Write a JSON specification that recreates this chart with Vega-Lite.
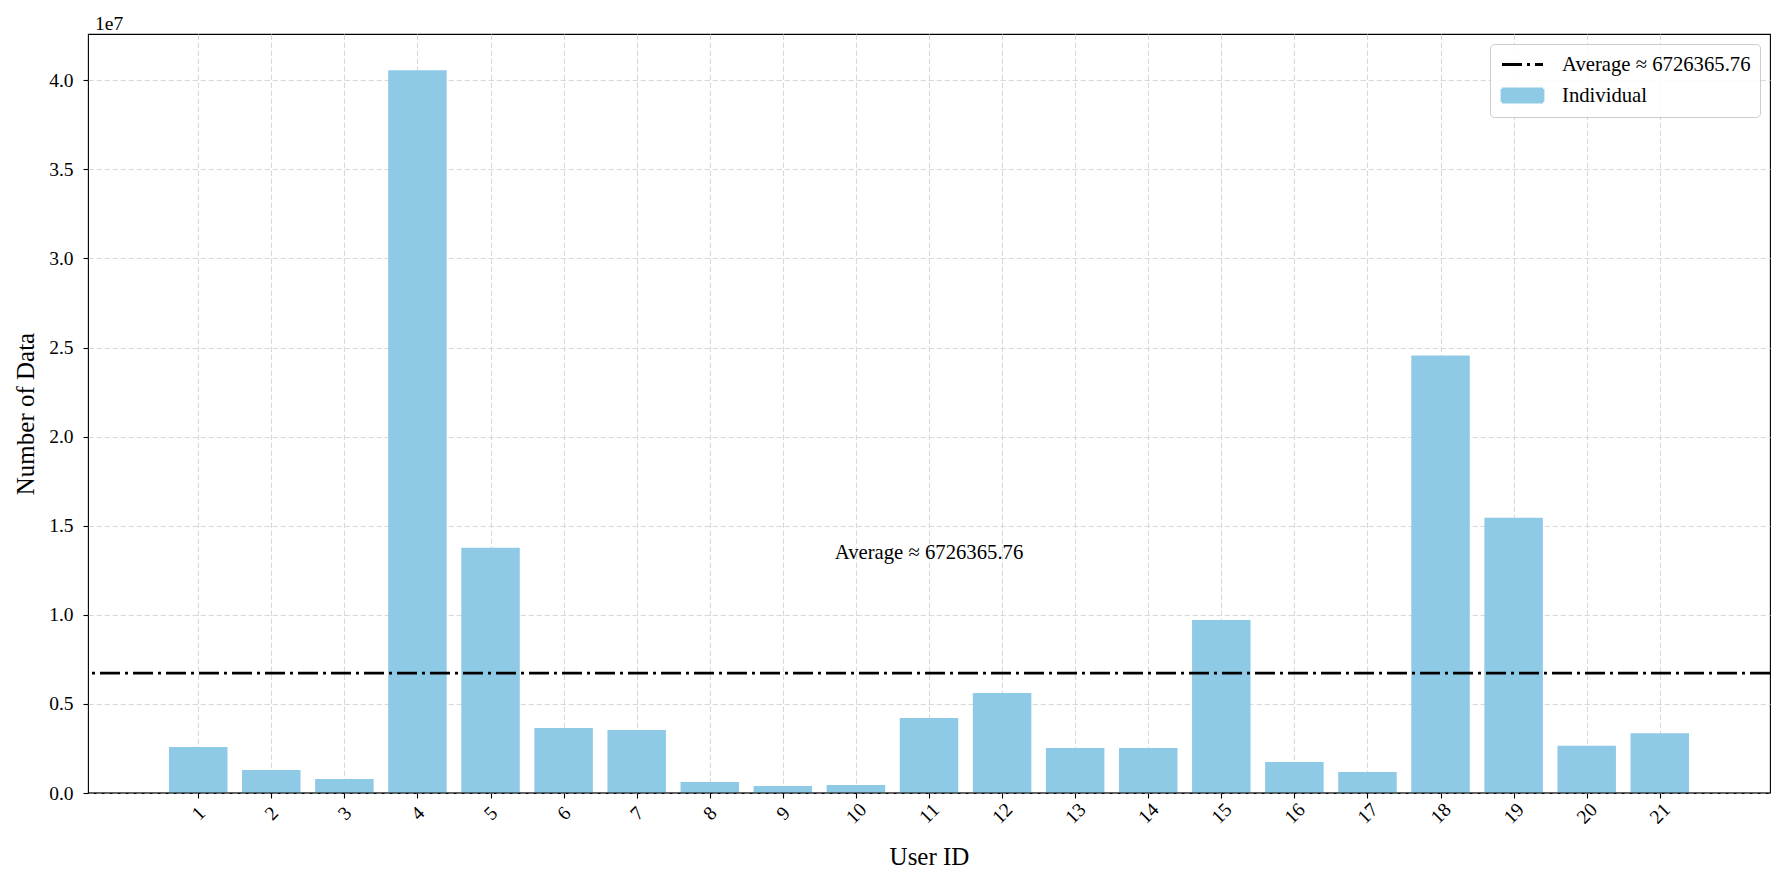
{
  "$schema": "https://vega.github.io/schema/vega-lite/v6.json",
  "width": 1682,
  "height": 759,
  "autosize": {"type": "none"},
  "padding": {"left": 88, "top": 34, "right": 15, "bottom": 91},
  "background": "white",
  "datasets": {
    "users": [
      {"user": 1, "count": 2580000},
      {"user": 2, "count": 1290000},
      {"user": 3, "count": 790000},
      {"user": 4, "count": 40560000},
      {"user": 5, "count": 13760000},
      {"user": 6, "count": 3650000},
      {"user": 7, "count": 3540000},
      {"user": 8, "count": 620000},
      {"user": 9, "count": 390000},
      {"user": 10, "count": 450000},
      {"user": 11, "count": 4210000},
      {"user": 12, "count": 5610000},
      {"user": 13, "count": 2530000},
      {"user": 14, "count": 2530000},
      {"user": 15, "count": 9710000},
      {"user": 16, "count": 1740000},
      {"user": 17, "count": 1180000},
      {"user": 18, "count": 24550000},
      {"user": 19, "count": 15450000},
      {"user": 20, "count": 2650000},
      {"user": 21, "count": 3360000}
    ],
    "avg": [
      {"label": "Average ≈ 6726365.76", "value": 6726365.76}
    ],
    "exponent": [
      {"text": "1e7"}
    ]
  },
  "layer": [
    {
      "data": {"name": "users"},
      "mark": {"type": "bar", "width": 58.5, "color": "#8ECAE6"},
      "encoding": {
        "x": {
          "field": "user",
          "type": "quantitative",
          "scale": {"domain": [-0.44, 22.44], "nice": false, "zero": false},
          "axis": {
            "values": [1,2,3,4,5,6,7,8,9,10,11,12,13,14,15,16,17,18,19,20,21],
            "format": "d",
            "title": "User ID",
            "titleX": 841,
            "titleY": 71,
            "titleBaseline": "alphabetic",
            "labelAngle": -45,
            "labelAlign": "center",
            "labelBaseline": "middle",
            "labelPadding": 15,
            "labelFlush": false,
            "labelOverlap": false
          }
        },
        "y": {
          "field": "count",
          "type": "quantitative",
          "scale": {"domain": [0, 42600000], "nice": false},
          "axis": {
            "values": [0, 5000000, 10000000, 15000000, 20000000, 25000000, 30000000, 35000000, 40000000],
            "labelExpr": "format(datum.value / 10000000, '.1f')",
            "title": "Number of Data",
            "titleX": -55,
            "titleY": 379.5,
            "titleBaseline": "alphabetic",
            "labelPadding": 10
          }
        },
        "color": {
          "datum": "Individual",
          "type": "nominal",
          "title": null,
          "scale": {"domain": ["Average ≈ 6726365.76", "Individual"], "range": ["black", "#8ECAE6"]},
          "legend": {
            "title": null,
            "orient": "top-right",
            "offset": 10,
            "padding": 9,
            "strokeColor": "#cccccc",
            "fillColor": "rgba(255,255,255,0.85)",
            "cornerRadius": 4,
            "labelFont": "Liberation Serif",
            "labelFontSize": 20.7,
            "labelColor": "black",
            "labelLimit": 400,
            "symbolSize": 400,
            "symbolOffset": 12,
            "labelOffset": 28,
            "rowPadding": 8,
            "encode": {
              "symbols": {
                "update": {
                  "shape": {"signal": "datum.value === 'Individual' ? 'M-2.05,-0.65H2.05V0.65H-2.05Z' : 'M-2.05,0H2.05'"},
                  "fill": {"signal": "datum.value === 'Individual' ? '#8ECAE6' : 'transparent'"},
                  "stroke": {"signal": "datum.value === 'Individual' ? 'transparent' : 'black'"},
                  "strokeDash": {"signal": "datum.value === 'Individual' ? [1, 0] : [20, 5, 3, 5]"},
                  "strokeWidth": {"value": 2.8},
                  "opacity": {"value": 1},
                  "fillOpacity": {"value": 1},
                  "strokeOpacity": {"value": 1}
                }
              }
            }
          }
        }
      }
    },
    {
      "data": {"name": "avg"},
      "mark": {"type": "rule", "strokeWidth": 2.8, "strokeDash": [20, 5, 3, 5]},
      "encoding": {
        "y": {"field": "value", "type": "quantitative"},
        "color": {"field": "label", "type": "nominal", "title": null}
      }
    },
    {
      "data": {"name": "avg"},
      "mark": {"type": "text", "font": "Liberation Serif", "fontSize": 20.7, "align": "center", "baseline": "middle", "color": "black"},
      "encoding": {
        "x": {"datum": 11, "type": "quantitative"},
        "y": {"datum": 13452731.52, "type": "quantitative"},
        "text": {"field": "label"}
      }
    },
    {
      "data": {"name": "exponent"},
      "mark": {"type": "text", "font": "Liberation Serif", "fontSize": 19.5, "align": "left", "baseline": "alphabetic", "color": "black", "dx": 2, "dy": -4},
      "encoding": {
        "x": {"datum": -0.44, "type": "quantitative"},
        "y": {"datum": 42600000, "type": "quantitative"},
        "text": {"field": "text"}
      }
    },
    {
      "data": {"name": "exponent"},
      "mark": {"type": "rule", "color": "black", "strokeWidth": 1.1},
      "encoding": {
        "y": {"datum": 0, "type": "quantitative"}
      }
    }
  ],
  "config": {
    "view": {"stroke": "black", "strokeWidth": 1.1},
    "axis": {
      "domain": false,
      "grid": true,
      "gridColor": "#d9d9d9",
      "gridDash": [5.5, 2.5],
      "gridWidth": 1.1,
      "ticks": true,
      "tickColor": "black",
      "tickWidth": 1.1,
      "tickSize": 5,
      "labelFont": "Liberation Serif",
      "labelFontSize": 19.5,
      "labelColor": "black",
      "titleFont": "Liberation Serif",
      "titleFontSize": 25,
      "titleFontWeight": "normal",
      "titleColor": "black"
    }
  }
}
